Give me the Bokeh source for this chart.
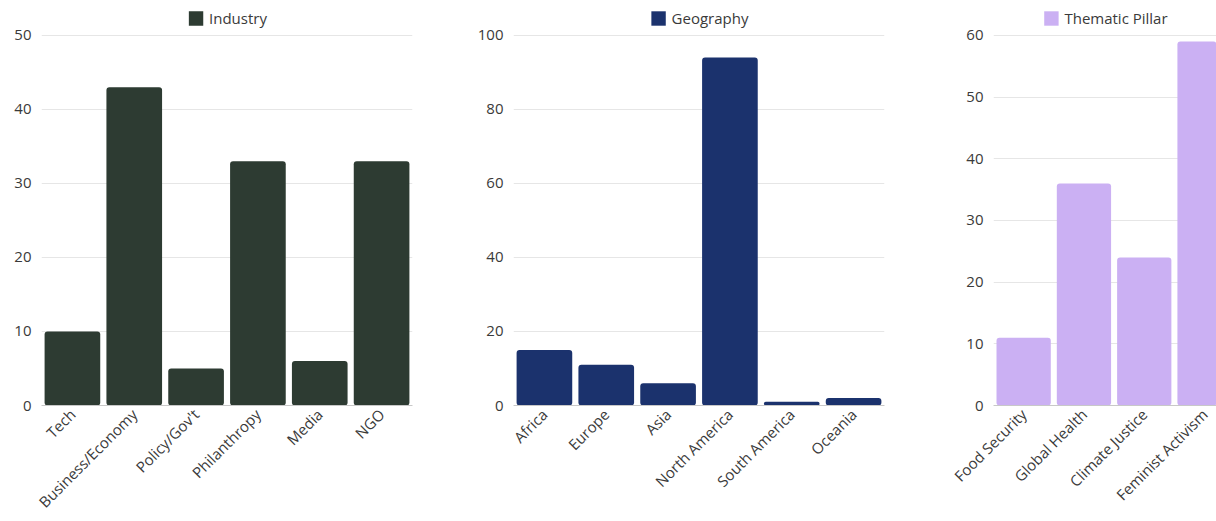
import math

from bokeh.embed import file_html
from bokeh.layouts import row
from bokeh.models import (ColumnDataSource, FixedTicker, Legend, LegendItem,
                          Range1d, SingleIntervalTicker)
from bokeh.plotting import figure
from bokeh.resources import INLINE

# Speaker counts by category
industry_labels = ["Tech", "Business/Economy", "Policy/Gov't", "Philanthropy", "Media", "NGO"]
industry_counts = [10, 43, 5, 33, 6, 33]

geography_labels = ["Africa", "Europe", "Asia", "North America", "South America", "Oceania"]
geography_counts = [15, 11, 6, 94, 1, 2]

pillar_labels = ["Food Security", "Global Health", "Climate Justice", "Feminist Activism"]
pillar_counts = [11, 36, 24, 59]

FONT = "Open Sans"
TEXT = "#3a3a3a"
FRAME_H = 406      # plot frame height in px
GRID_SPAN = 371    # px from the zero line up to the top gridline


def bar_panel(labels, counts, color, name, y_top, step, width,
              border_left, border_right, slots):
    pos = [i + 0.5 for i in range(len(labels))]
    src = ColumnDataSource(dict(x=pos, top=counts, label=labels))
    # extra headroom above the top gridline holds the legend
    y_end = y_top * FRAME_H / GRID_SPAN
    p = figure(width=width, height=521, output_backend="svg", toolbar_location=None,
               x_range=Range1d(0, slots), y_range=Range1d(0, y_end),
               min_border_left=border_left, min_border_right=border_right,
               min_border_top=0, min_border_bottom=521 - FRAME_H)
    p.outline_line_color = None
    p.background_fill_color = "white"
    p.border_fill_color = "white"

    r = p.vbar(x="x", top="top", width=0.9, source=src, fill_color=color,
               line_color=None, border_radius=3)

    p.xgrid.grid_line_color = None
    p.ygrid.grid_line_color = "#e6e6e6"
    p.ygrid.grid_line_width = 1

    p.yaxis.ticker = SingleIntervalTicker(interval=step, num_minor_ticks=0)
    p.yaxis.axis_line_color = None
    p.yaxis.major_tick_line_color = None
    p.yaxis.minor_tick_line_color = None
    p.yaxis.major_tick_out = 0
    p.yaxis.major_tick_in = 0
    p.yaxis.major_label_standoff = 10
    p.yaxis.major_label_text_font = FONT
    p.yaxis.major_label_text_font_size = "15px"
    p.yaxis.major_label_text_color = TEXT

    p.xaxis.ticker = FixedTicker(ticks=pos)
    p.xaxis.major_label_overrides = {x: l for x, l in zip(pos, labels)}
    p.xaxis.axis_line_color = "#c8c8c8"
    p.xaxis.axis_line_width = 1
    p.xaxis.major_tick_line_color = None
    p.xaxis.minor_tick_line_color = None
    p.xaxis.major_tick_out = 0
    p.xaxis.major_tick_in = 0
    p.xaxis.major_label_orientation = math.pi / 4
    p.xaxis.major_label_standoff = 6
    p.xaxis.major_label_text_font = FONT
    p.xaxis.major_label_text_font_size = "15px"
    p.xaxis.major_label_text_color = TEXT

    legend = Legend(items=[LegendItem(label=name, renderers=[r])],
                    location="top_center", orientation="horizontal",
                    border_line_color=None, background_fill_alpha=0,
                    glyph_width=18, glyph_height=18, label_height=18,
                    label_standoff=5, padding=0, margin=8,
                    label_text_font=FONT, label_text_font_size="15px",
                    label_text_color=TEXT)
    p.add_layout(legend)
    return p


p1 = bar_panel(industry_labels, industry_counts, "#2d3b32", "Industry",
               50, 10, 470, 41, 58, 6)
p2 = bar_panel(geography_labels, geography_counts, "#1b326d", "Geography",
               100, 20, 460, 43, 46, 6)
p3 = bar_panel(pillar_labels, pillar_counts, "#cbb0f3", "Thematic Pillar",
               60, 10, 286, 63, 0, (1216 - 993) / 60.3)

layout = row(p1, p2, p3, spacing=0)
open("out.html", "w").write(file_html(layout, INLINE))
